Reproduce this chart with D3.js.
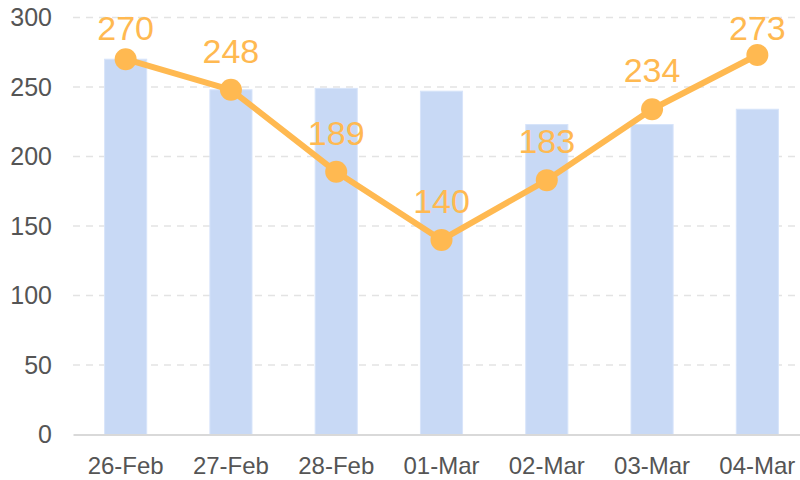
<!DOCTYPE html>
<html>
<head>
<meta charset="utf-8">
<script src="https://cdn.jsdelivr.net/npm/d3@7"></script>
<style>
  body { margin: 0; background: #fff; }
  svg { display: block; font-family: "Liberation Sans", Arial, sans-serif; }
</style>
</head>
<body>
<div id="chart"></div>
<script>
// chart data
const categories = ['26-Feb', '27-Feb', '28-Feb', '01-Mar', '02-Mar', '03-Mar', '04-Mar'];
const barValues = [270, 248, 249, 247, 223, 223, 234];
const lineValues = [270, 248, 189, 140, 183, 234, 273];
const yTicks = [0, 50, 100, 150, 200, 250, 300];

const width = 800, height = 480;
const margin = {top: 17.5, bottom: 45.5, left: 73, right: -10}; // plot runs past the right edge

const svg = d3.select('#chart')
    .append('svg')
    .attr('width', width)
    .attr('height', height);

const x = d3.scaleBand()
    .domain(categories)
    .range([margin.left, width - margin.right])
    .paddingInner(0.6)
    .paddingOuter(0.3);

const y = d3.scaleLinear()
    .domain([0, 300])
    .range([height - margin.bottom, margin.top]);

const mid = d => x(d) + x.bandwidth() / 2;

// dashed grid lines
svg.append('g')
    .selectAll('line')
    .data(yTicks.filter(t => t > 0))
    .join('line')
    .attr('x1', margin.left)
    .attr('x2', width)
    .attr('y1', d => y(d))
    .attr('y2', d => y(d))
    .attr('stroke', '#e3e3e3')
    .attr('stroke-width', 1.5)
    .attr('stroke-dasharray', '7,6');

// y axis labels
const axisY = svg.append('g')
    .attr('transform', `translate(${margin.left},0)`)
    .call(d3.axisLeft(y).tickValues(yTicks).tickSize(0).tickPadding(21));
axisY.select('.domain').remove();
axisY.selectAll('text')
    .attr('fill', '#555')
    .style('font-size', '25px');

// bars
svg.append('g')
    .selectAll('rect')
    .data(categories)
    .join('rect')
    .attr('x', d => x(d))
    .attr('width', x.bandwidth())
    .attr('y', (d, i) => y(barValues[i]))
    .attr('height', (d, i) => y(0) - y(barValues[i]))
    .attr('fill', '#c8d9f5')
    .attr('stroke', '#d7e4fa')
    .attr('stroke-width', 1);

// x axis
const axisX = svg.append('g')
    .attr('transform', `translate(0,${y(0)})`)
    .call(d3.axisBottom(x).tickSize(0).tickPadding(22));
axisX.select('.domain')
    .attr('stroke', '#d9d9d9')
    .attr('stroke-width', 2);
axisX.selectAll('text')
    .attr('fill', '#555')
    .style('font-size', '24px');

// line series
const lineGen = d3.line()
    .x((d, i) => mid(categories[i]))
    .y(d => y(d));

svg.append('path')
    .datum(lineValues)
    .attr('d', lineGen)
    .attr('fill', 'none')
    .attr('stroke', '#ffb951')
    .attr('stroke-width', 6)
    .attr('stroke-linejoin', 'round');

svg.append('g')
    .selectAll('circle')
    .data(lineValues)
    .join('circle')
    .attr('cx', (d, i) => mid(categories[i]))
    .attr('cy', d => y(d))
    .attr('r', 11)
    .attr('fill', '#ffb951');

// value labels, kept inside the top edge
svg.append('g')
    .selectAll('text')
    .data(lineValues)
    .join('text')
    .attr('x', (d, i) => mid(categories[i]))
    .attr('y', d => Math.max(y(d) - 27, 40))
    .attr('text-anchor', 'middle')
    .attr('fill', '#ffb951')
    .style('font-size', '34px')
    .text(d => d);
</script>
</body>
</html>
